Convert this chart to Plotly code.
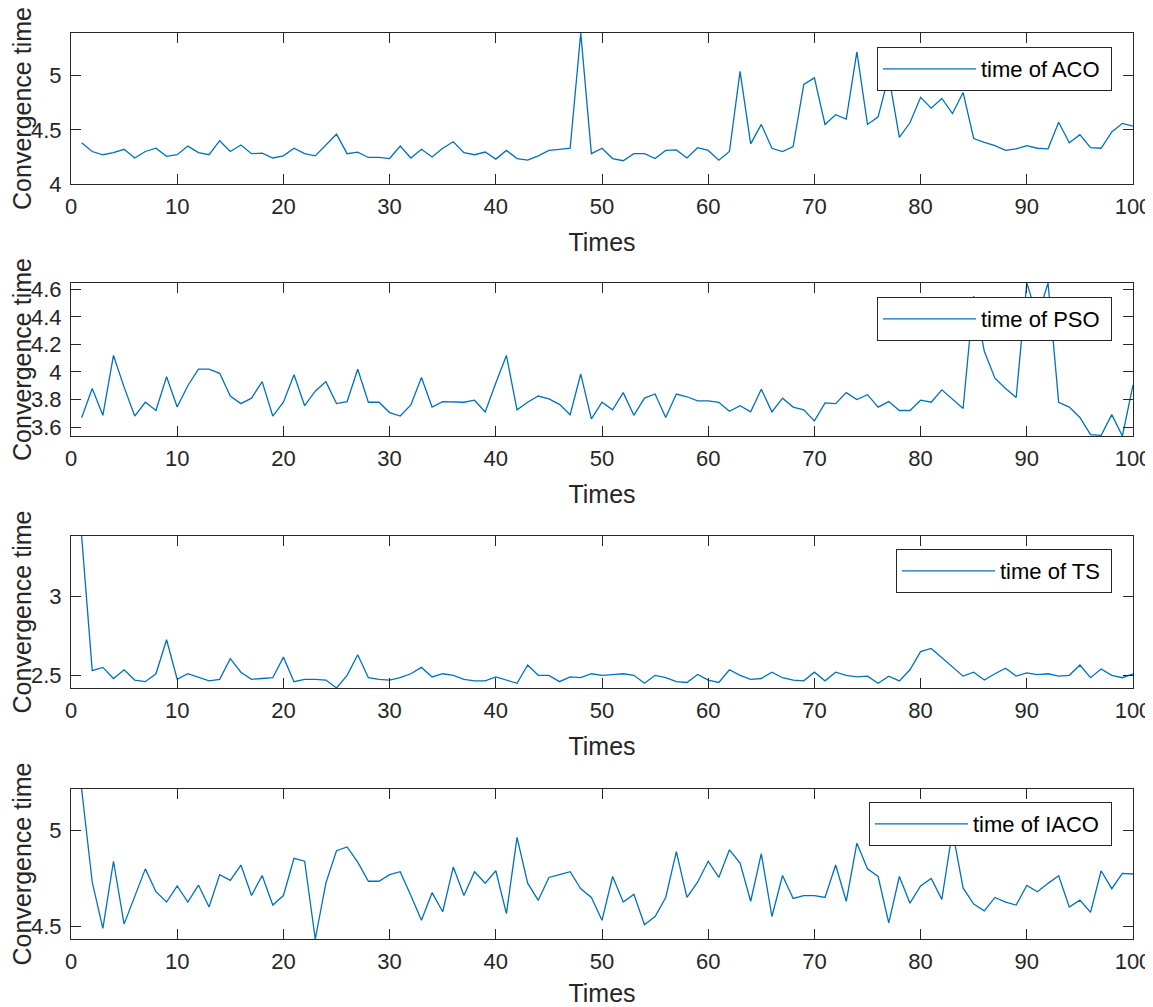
import plotly.graph_objects as go
from plotly.subplots import make_subplots

runs = list(range(1, 101))

aco_time = [4.38, 4.30, 4.27, 4.29, 4.32, 4.24, 4.30, 4.33, 4.255, 4.27,
            4.35, 4.29, 4.27, 4.40, 4.30, 4.36, 4.28, 4.285, 4.24, 4.26,
            4.33, 4.28, 4.26, 4.36, 4.46, 4.28, 4.295, 4.245, 4.245, 4.235,
            4.35, 4.24, 4.32, 4.25, 4.33, 4.39, 4.29, 4.27, 4.295, 4.23,
            4.31, 4.235, 4.22, 4.26, 4.31, 4.32, 4.33, 5.394, 4.28, 4.33,
            4.235, 4.215, 4.28, 4.28, 4.235, 4.31, 4.315, 4.24, 4.335, 4.31,
            4.22, 4.30, 5.04, 4.37, 4.55, 4.33, 4.30, 4.345, 4.92, 4.98,
            4.55, 4.64, 4.60, 5.22, 4.55, 4.62, 5.00, 4.43, 4.565, 4.80,
            4.70, 4.79, 4.65, 4.845, 4.42, 4.385, 4.355, 4.31, 4.325, 4.355,
            4.33, 4.325, 4.57, 4.38, 4.455, 4.335, 4.33, 4.48, 4.56, 4.535]

pso_time = [3.668, 3.88, 3.685, 4.12, 3.89, 3.68, 3.78, 3.72, 3.965, 3.745,
            3.90, 4.02, 4.02, 3.99, 3.825, 3.77, 3.81, 3.93, 3.68, 3.78,
            3.98, 3.755, 3.86, 3.93, 3.77, 3.785, 4.02, 3.78, 3.78, 3.705,
            3.68, 3.76, 3.96, 3.745, 3.785, 3.785, 3.78, 3.795, 3.71, 3.92,
            4.12, 3.725, 3.78, 3.825, 3.805, 3.765, 3.69, 3.985, 3.66, 3.78,
            3.725, 3.85, 3.685, 3.81, 3.84, 3.67, 3.84, 3.82, 3.79, 3.79,
            3.78, 3.715, 3.755, 3.71, 3.875, 3.71, 3.81, 3.745, 3.725, 3.645,
            3.775, 3.77, 3.85, 3.80, 3.835, 3.745, 3.785, 3.72, 3.72, 3.795,
            3.78, 3.87, 3.80, 3.735, 4.55, 4.15, 3.955, 3.88, 3.815, 4.646,
            4.40, 4.646, 3.78, 3.745, 3.67, 3.545, 3.54, 3.69, 3.535, 3.905]

ts_time = [3.38, 2.53, 2.55, 2.48, 2.535, 2.47, 2.46, 2.51, 2.725, 2.475,
           2.51, 2.485, 2.465, 2.475, 2.605, 2.52, 2.475, 2.48, 2.485, 2.615,
           2.46, 2.475, 2.475, 2.47, 2.42, 2.50, 2.63, 2.485, 2.475, 2.47,
           2.485, 2.51, 2.55, 2.49, 2.51, 2.50, 2.475, 2.465, 2.465, 2.49,
           2.47, 2.45, 2.565, 2.50, 2.50, 2.46, 2.49, 2.485, 2.51, 2.50,
           2.505, 2.51, 2.50, 2.45, 2.50, 2.485, 2.46, 2.455, 2.505, 2.47,
           2.455, 2.535, 2.50, 2.475, 2.48, 2.52, 2.485, 2.47, 2.465, 2.52,
           2.465, 2.52, 2.50, 2.49, 2.495, 2.45, 2.495, 2.465, 2.535, 2.65,
           2.67, 2.61, 2.55, 2.495, 2.52, 2.47, 2.51, 2.545, 2.495, 2.515,
           2.505, 2.51, 2.495, 2.50, 2.565, 2.485, 2.54, 2.50, 2.485, 2.51]

iaco_time = [5.219, 4.73, 4.488, 4.84, 4.51, 4.66, 4.80, 4.68, 4.626, 4.71,
             4.626, 4.715, 4.60, 4.77, 4.74, 4.82, 4.66, 4.765, 4.61, 4.66,
             4.855, 4.84, 4.432, 4.725, 4.895, 4.915, 4.835, 4.735, 4.735, 4.77,
             4.785, 4.66, 4.53, 4.675, 4.575, 4.81, 4.66, 4.785, 4.725, 4.79,
             4.565, 4.965, 4.725, 4.635, 4.755, 4.77, 4.785, 4.695, 4.65, 4.53,
             4.76, 4.626, 4.666, 4.507, 4.55, 4.65, 4.89, 4.65, 4.73, 4.84,
             4.755, 4.90, 4.83, 4.63, 4.88, 4.55, 4.765, 4.645, 4.66, 4.66,
             4.65, 4.82, 4.63, 4.935, 4.80, 4.76, 4.517, 4.76, 4.62, 4.71,
             4.75, 4.64, 5.00, 4.70, 4.615, 4.58, 4.65, 4.626, 4.61, 4.713,
             4.68, 4.724, 4.764, 4.60, 4.636, 4.572, 4.79, 4.696, 4.776, 4.773]

series = [("time of ACO", aco_time), ("time of PSO", pso_time),
          ("time of TS", ts_time), ("time of IACO", iaco_time)]

x_ticks = list(range(0, 101, 10))
y_ticks = [[4, 4.5, 5],
           [3.6, 3.8, 4, 4.2, 4.4, 4.6],
           [2.5, 3],
           [4.5, 5]]
y_ranges = [[4, max(aco_time)],
            [min(pso_time), max(pso_time)],
            [min(ts_time), max(ts_time)],
            [min(iaco_time), max(iaco_time)]]

# page body has an 8px margin, so the figure is a bit smaller and shifted
PAD = 8
W, H = 1153 - PAD, 1007 - PAD
ink = "#262626"
font = "Liberation Sans, Arial, Helvetica, sans-serif"


def fx(px):
    return (px - PAD) / W


def fy(py):
    return 1 - (py - PAD) / H


# panel boxes in screen pixels (top, bottom)
boxes = [(33, 184), (283, 436), (536, 688), (789, 939)]
legend_tops = [47, 297, 549, 802]

fig = make_subplots(rows=4, cols=1)

for k, (name, vals) in enumerate(series):
    r = k + 1
    lg = "legend" if k == 0 else "legend%d" % r
    # trailing nbsp gives the legend box its right padding
    fig.add_trace(go.Scatter(x=runs, y=vals, mode="lines", name=name + "\u00a0",
                             line=dict(color="#0072BD", width=1.3),
                             legend=lg, showlegend=True),
                  row=r, col=1)
    top, bot = boxes[k]
    sfx = "" if k == 0 else str(r)
    fig.layout["xaxis" + sfx].update(
        domain=[fx(71), fx(1133)], range=[0, 100], tickvals=x_ticks, automargin=False,
        ticks="inside", ticklen=10, tickcolor=ink, tickwidth=1,
        showline=True, linecolor=ink, linewidth=1, mirror="ticks",
        showgrid=False, zeroline=False,
        tickfont=dict(size=22, color=ink, family=font),
        ticklabelstandoff=3,
        title=dict(text="Times", font=dict(size=25, color=ink, family=font), standoff=15),
    )
    fig.layout["yaxis" + sfx].update(
        domain=[fy(bot), fy(top)], range=y_ranges[k], tickvals=y_ticks[k],
        automargin=False,
        ticks="inside", ticklen=10, tickcolor=ink, tickwidth=1,
        showline=True, linecolor=ink, linewidth=1, mirror="ticks",
        showgrid=False, zeroline=False,
        tickfont=dict(size=22, color=ink, family=font),
        ticklabelstandoff=4,
        title=dict(text="Convergence time", font=dict(size=25, color=ink, family=font), standoff=20),
    )
    fig.layout[lg] = dict(
        x=fx(1112), y=fy(legend_tops[k]), xanchor="right", yanchor="top",
        bgcolor="white", bordercolor=ink, borderwidth=1,
        font=dict(size=22, color="black", family=font),
        itemwidth=93, tracegroupgap=0,
    )

fig.update_layout(width=W, height=H, margin=dict(l=0, r=0, t=0, b=0, autoexpand=False),
                  paper_bgcolor="white", plot_bgcolor="white",
                  font=dict(family=font, color=ink))

fig.write_html("out.html")
